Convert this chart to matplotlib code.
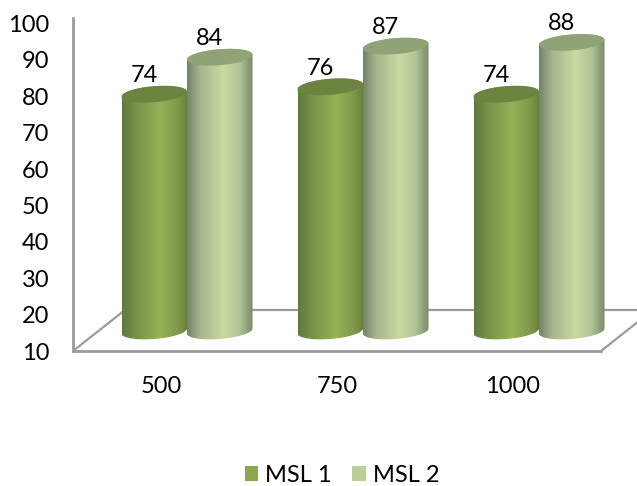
import numpy as np
import matplotlib
matplotlib.use("Agg")
import matplotlib.pyplot as plt
from matplotlib.colors import LinearSegmentedColormap
from matplotlib.patches import Patch, Polygon

categories = ["500", "750", "1000"]
msl1 = [74, 76, 74]
msl2 = [84, 87, 88]
y_ticks = list(range(10, 101, 10))

plt.rcParams["font.family"] = ["Lato", "DejaVu Sans"]
W, H = 637, 486
FONT = 17
GRID = "#9b9b9b"

fig = plt.figure(figsize=(W / 100, H / 100), dpi=100)
rect = [73 / W, 1 - 351 / H, 528 / W, 333 / H]

# Front plane: value axis, category axis and the floor outline
ax = fig.add_axes(rect)
ax.set_xlim(-0.5, 2.5)
ax.set_ylim(10, 10 + 333 / 3.64)
ax.set_yticks(y_ticks)
ax.set_xticks(range(len(categories)), categories)
ax.tick_params(axis="y", length=0, pad=17, labelsize=FONT, labelcolor="black")
ax.tick_params(axis="x", length=0, pad=18, labelsize=FONT, labelcolor="black")
for side in ("top", "right"):
    ax.spines[side].set_visible(False)
for side in ("left", "bottom"):
    ax.spines[side].set_color(GRID)
    ax.spines[side].set_linewidth(2)

depth_x = 52 / 176
depth_y = 41 / 3.64
floor_style = dict(color=GRID, lw=1.6, clip_on=False, solid_capstyle="butt")
ax.plot([-0.5, -0.5 + depth_x], [10, 10 + depth_y], **floor_style)
ax.plot([2.5, 2.5 + depth_x], [10, 10 + depth_y], **floor_style)
ax.plot([-0.5 + depth_x, 2.5 + depth_x], [10 + depth_y] * 2, **floor_style)

# Cylinders sit on a plane shifted back from the front axes
ax2 = fig.add_axes([73 / W, 1 - 351 / H, 564 / W, 333 / H])
ax2.patch.set_alpha(0)
ax2.axis("off")
shift = 26 / 176
PX = 3.7
xlim = (-0.5 - shift, -0.5 - shift + 564 / 176)
ylim = (10 - 20 / PX, 10 + 313 / PX)

half_w = 0.186
cap_b = 8 / PX
cap_s = -2.5 / PX

cmap1 = LinearSegmentedColormap.from_list(
    "msl1", [(0, "#5f7a3b"), (0.18, "#748f47"), (0.58, "#96b25a"),
             (0.85, "#7f9a49"), (1, "#667f3c")])
cmap2 = LinearSegmentedColormap.from_list(
    "msl2", [(0, "#73826a"), (0.2, "#a6b68e"), (0.55, "#c7dba2"),
             (0.8, "#b3c495"), (1, "#77866a")])


def cylinder(cx, value, cmap, top_color, zorder):
    t = np.linspace(0, 2 * np.pi, 121)
    ex = half_w * np.cos(t)
    ey = cap_b * np.sin(t) - cap_s * np.cos(t)
    lower = np.linspace(np.pi, 2 * np.pi, 60)
    upper = np.linspace(0, np.pi, 60)
    xs = np.r_[cx + half_w * np.cos(lower), cx + half_w * np.cos(upper)]
    ys = np.r_[10 + cap_b * np.sin(lower) - cap_s * np.cos(lower),
               value + cap_b * np.sin(upper) - cap_s * np.cos(upper)]
    body = Polygon(np.c_[xs, ys], closed=True, transform=ax2.transData,
                   fc="none", ec="none")
    ax2.add_patch(body)
    img = ax2.imshow(np.linspace(0, 1, 256)[None, :], cmap=cmap, aspect="auto",
                     extent=(cx - half_w, cx + half_w, 10 - 2 * cap_b, value + 2 * cap_b),
                     zorder=zorder, interpolation="bilinear")
    img.set_clip_path(body)
    ax2.fill(cx + ex, value + ey, color=top_color, lw=0, zorder=zorder + 0.1)
    ax2.annotate(str(value), (cx, value), xytext=(-10, 18.5), textcoords="offset pixels",
                 ha="center", va="center", fontsize=FONT, color="black", zorder=10)


for i in range(len(categories)):
    cylinder(i - half_w, msl1[i], cmap1, "#6c8440", 3)
    cylinder(i + half_w, msl2[i], cmap2, "#8fa377", 4)
ax2.set_xlim(*xlim)
ax2.set_ylim(*ylim)

handles = [Patch(fc="#8aa84e", label="MSL 1"), Patch(fc="#b9cf95", label="MSL 2")]
fig.legend(handles=handles, ncol=2, loc="center", bbox_to_anchor=(342 / W, 1 - 475 / H),
           frameon=False, fontsize=FONT, handlelength=0.58, handleheight=0.58,
           handletextpad=0.3, columnspacing=0.85, labelcolor="black")

fig.savefig("out.png", dpi=100)
